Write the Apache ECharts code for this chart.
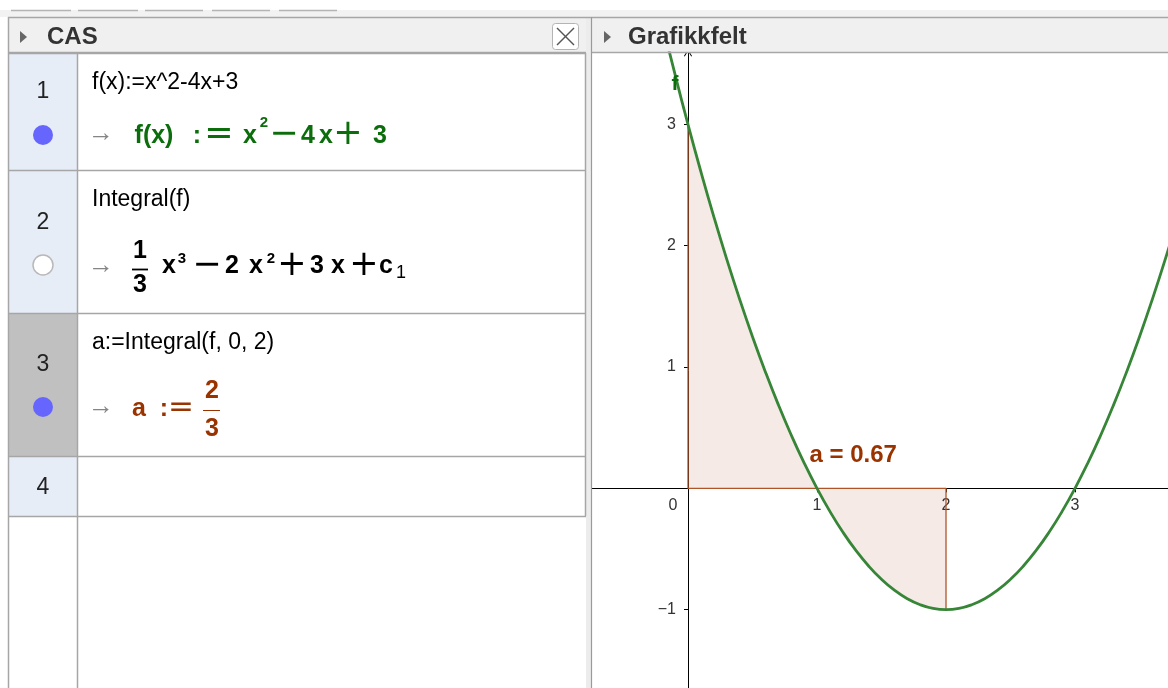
<!DOCTYPE html>
<html>
<head>
<meta charset="utf-8">
<title>CAS – Grafikkfelt</title>
<script src="https://cdn.jsdelivr.net/npm/echarts@6/dist/echarts.min.js"></script>
<style>
  html, body { margin: 0; padding: 0; background: #fff; }
  #main { width: 1168px; height: 688px; }
</style>
</head>
<body>
<div id="main"></div>
<script>
const curveX = [-0.8, -0.7, -0.6, -0.5, -0.4, -0.3, -0.2, -0.1, 0, 0.1, 0.2, 0.3, 0.4, 0.5, 0.6, 0.7, 0.8, 0.9, 1,
  1.1, 1.2, 1.3, 1.4, 1.5, 1.6, 1.7, 1.8, 1.9, 2, 2.1, 2.2, 2.3, 2.4, 2.5, 2.6, 2.7, 2.8, 2.9, 3,
  3.1, 3.2, 3.3, 3.4, 3.5, 3.6, 3.7, 3.8];
const curveY = [6.84, 6.29, 5.76, 5.25, 4.76, 4.29, 3.84, 3.41, 3, 2.61, 2.24, 1.89, 1.56, 1.25, 0.96, 0.69, 0.44, 0.21, 0,
  -0.19, -0.36, -0.51, -0.64, -0.75, -0.84, -0.91, -0.96, -0.99, -1, -0.99, -0.96, -0.91, -0.84, -0.75, -0.64, -0.51, -0.36, -0.19, 0,
  0.21, 0.44, 0.69, 0.96, 1.25, 1.56, 1.89, 2.24];
// integral region a = Integral(f, 0, 2)
const areaStart = 0;
const areaEnd = 2;
const areaEdge = [[0, 3], [0, 0], [2, 0], [2, -1]];
const areaText = 'a = 0.67';
// axis ticks / labels
const xLabelValues = [0, 1, 2, 3];
const xTickValues = [1, 2, 3];
const yLabelValues = [-1, 1, 2, 3];
// CAS rows
const casNumbers = ['1', '2', '3', '4'];
const casInputs = ['f(x):=x^2-4x+3', 'Integral(f)', 'a:=Integral(f, 0, 2)', ''];

const FONT = '"Liberation Sans", Arial, sans-serif';
const OPFONT = '"DejaVu Sans", sans-serif';
const GREEN = '#0b6d0b';
const BROWN = '#993300';
const LINE = '#a6a6a6';

const chart = echarts.init(document.getElementById('main'));

// --- little helpers for the CAS panel ---
function txt(x, y, text, o) {
  o = o || {};
  return {
    type: 'text', x: x, y: y, z: 10,
    style: {
      text: text, fill: o.color || '#000',
      fontSize: o.size || 23, fontWeight: o.bold ? 'bold' : 'normal', fontFamily: o.family || FONT,
      align: o.align || 'center', verticalAlign: 'middle'
    }
  };
}
function op(x, y, text, color) {
  return txt(x, y, text, { size: 35, color: color, family: OPFONT });
}
function line(x1, y1, x2, y2, color, w) {
  return { type: 'line', z: 5, shape: { x1: x1, y1: y1, x2: x2, y2: y2 }, style: { stroke: color || LINE, lineWidth: w || 1.5 } };
}
function rect(x, y, w, h, fill, stroke, r) {
  return { type: 'rect', z: 1, shape: { x: x, y: y, width: w, height: h, r: r || 0 }, style: { fill: fill, stroke: stroke || null } };
}

const rowTop = [53, 170, 313, 456];
const rowBottom = [170, 313, 456, 516];
const numY = [92, 223, 365, 488];
const inY = [83, 200, 343];

const g = [];
// top strip + tabs
g.push(rect(0, 10, 1168, 7, '#f2f2f2'));
[[11, 71], [78, 138], [145, 203], [212, 270], [279, 337]].forEach(function (t) {
  g.push(line(t[0], 10.5, t[1], 10.5, '#b4b4b4', 1.5));
});
// headers
g.push(rect(8, 17, 578, 35, '#f0f0f0'));
g.push(rect(591, 17, 577, 35, '#f0f0f0'));
g.push(line(8, 17.5, 1168, 17.5, LINE, 1.5));
g.push(line(8, 52.5, 586, 52.5, LINE, 1.5));
g.push(line(591, 52.5, 1168, 52.5, LINE, 1.5));
g.push({ type: 'polygon', z: 5, shape: { points: [[20, 31], [27, 37], [20, 43]] }, style: { fill: '#666' } });
g.push({ type: 'polygon', z: 5, shape: { points: [[604, 31], [611, 37], [604, 43]] }, style: { fill: '#666' } });
g.push(txt(47, 37, 'CAS', { bold: true, size: 24, color: '#333', align: 'left' }));
g.push(txt(628, 37, 'Grafikkfelt', { bold: true, size: 24, color: '#333', align: 'left' }));
// close button
g.push(rect(552.5, 23.5, 26, 26, '#fff', '#b4b4b4', 3));
g.push(line(557, 28, 574, 45, '#555', 1.5));
g.push(line(574, 28, 557, 45, '#555', 1.5));
// divider between panels
g.push(rect(586, 17, 5, 671, '#ececec'));
g.push(line(591.5, 17, 591.5, 688, '#9a9a9a', 1.2));
g.push(line(8.5, 17, 8.5, 688, LINE, 1.5));

// CAS rows
for (let i = 0; i < 4; i++) {
  g.push(rect(9, rowTop[i], 68, rowBottom[i] - rowTop[i], i === 2 ? '#c0c0c0' : '#e6edf7'));
  g.push(line(8, rowBottom[i] + 0.5, 586, rowBottom[i] + 0.5));
  g.push(txt(43, numY[i], casNumbers[i], { size: 23, color: '#222' }));
  if (casInputs[i]) g.push(txt(92, inY[i], casInputs[i], { size: 23, align: 'left' }));
}
g.push(line(8, 53.5, 586, 53.5));
g.push(line(77.5, 53, 77.5, 688));
g.push(line(585.5, 53, 585.5, 516));

// visibility dots
g.push({ type: 'circle', z: 5, shape: { cx: 43, cy: 135, r: 10 }, style: { fill: '#6666ff' } });
g.push({ type: 'circle', z: 5, shape: { cx: 43, cy: 265, r: 10 }, style: { fill: '#fff', stroke: '#b8b8b8', lineWidth: 1.5 } });
g.push({ type: 'circle', z: 5, shape: { cx: 43, cy: 407, r: 10 }, style: { fill: '#6666ff' } });

// arrows
[134, 266, 407].forEach(function (y) { g.push(txt(101, y, '→', { size: 26, color: '#858585' })); });

// row 1 output: f(x) := x^2 - 4 x + 3
const B1 = { bold: true, size: 25, color: GREEN };
g.push(txt(154, 136, 'f(x)', B1));
g.push(txt(197, 136, ':', B1));
g.push(op(219, 135, '=', GREEN));
g.push(txt(250, 136, 'x', B1));
g.push(txt(264, 123, '2', { bold: true, size: 15, color: GREEN }));
g.push(op(284, 135, '−', GREEN));
g.push(txt(308, 136, '4', B1));
g.push(txt(326, 136, 'x', B1));
g.push(op(348, 135, '+', GREEN));
g.push(txt(380, 136, '3', B1));

// row 2 output: 1/3 x^3 - 2 x^2 + 3 x + c1
const B2 = { bold: true, size: 25, color: '#000' };
g.push(txt(140, 251, '1', B2));
g.push(line(132, 269.5, 148, 269.5, '#000', 1.8));
g.push(txt(140, 285, '3', B2));
g.push(txt(169, 266, 'x', B2));
g.push(txt(182, 259, '3', { bold: true, size: 15 }));
g.push(op(207, 266, '−', '#000'));
g.push(txt(232, 266, '2', B2));
g.push(txt(256, 266, 'x', B2));
g.push(txt(271, 259, '2', { bold: true, size: 15 }));
g.push(op(292, 266, '+', '#000'));
g.push(txt(317, 266, '3', B2));
g.push(txt(338, 266, 'x', B2));
g.push(op(364, 266, '+', '#000'));
g.push(txt(386, 266, 'c', B2));
g.push(txt(401, 273, '1', { size: 18 }));

// row 3 output: a := 2/3
const B3 = { bold: true, size: 25, color: BROWN };
g.push(txt(139, 409, 'a', B3));
g.push(txt(164, 409, ':', B3));
g.push(txt(181, 408, '=', { size: 31, color: BROWN, family: OPFONT }));
g.push(txt(212, 391, '2', B3));
g.push(line(203, 410.5, 220, 410.5, BROWN, 1));
g.push(txt(212, 429, '3', B3));

// --- graph ---
const curve = curveX.map(function (x, i) { return [x, curveY[i]]; });
const areaData = curve.filter(function (p) { return p[0] >= areaStart && p[0] <= areaEnd; });

const axisText = { color: '#333', fontSize: 16, fontFamily: FONT };

const option = {
  backgroundColor: '#fff',
  animation: false,
  grid: { left: 592, top: 53, width: 576, height: 635, containLabel: false, outerBoundsMode: 'none' },
  xAxis: {
    type: 'value', min: -0.7442, max: 3.7209, position: 'bottom', offset: -199.7,
    axisLine: { onZero: false, lineStyle: { color: '#000', width: 1 } },
    axisTick: { show: true, length: 4, customValues: xTickValues, lineStyle: { color: '#000' } },
    axisLabel: Object.assign({
      customValues: xLabelValues, margin: 9,
      formatter: function (v) { return v === 0 ? '{z|0}' : String(v); },
      rich: { z: Object.assign({ padding: [0, 30, 0, 0] }, axisText) }
    }, axisText),
    splitLine: { show: false }
  },
  yAxis: {
    type: 'value', min: -1.646, max: 3.589, position: 'left', offset: -96,
    axisLine: {
      onZero: false, lineStyle: { color: '#000', width: 1 },
      symbol: ['none', 'path://M0,8 L5,0 L10,8 L9,8.6 L5,2 L1,8.6 Z'], symbolSize: [10, 7]
    },
    axisTick: { show: true, length: 4, customValues: yLabelValues, lineStyle: { color: '#000' } },
    axisLabel: Object.assign({
      customValues: yLabelValues, margin: 12,
      formatter: function (v) { return v < 0 ? '−' + Math.abs(v) : String(v); }
    }, axisText),
    splitLine: { show: false }
  },
  graphic: g,
  series: [
    {
      name: 'area', type: 'line', data: areaData, smooth: true, showSymbol: false, z: 2,
      lineStyle: { width: 0 },
      areaStyle: { color: 'rgba(153,51,0,0.1)', opacity: 1, origin: 0 }
    },
    {
      name: 'edge', type: 'line', data: areaEdge, showSymbol: false, z: 3,
      lineStyle: { color: '#b05428', width: 1.3 }
    },
    {
      name: 'f', type: 'line', data: curve, smooth: true, showSymbol: false, z: 4,
      lineStyle: { color: '#378637', width: 2.8 }
    },
    {
      name: 'labels', type: 'scatter', symbolSize: 1, z: 5,
      itemStyle: { color: 'transparent', opacity: 1 },
      data: [
        { value: [-0.124, 3.33], label: { formatter: 'f', color: GREEN, fontSize: 21 } },
        { value: [0.946, 0.266], label: { formatter: areaText, color: BROWN, fontSize: 24 } }
      ],
      label: {
        show: true, position: [0, 0], align: 'left', verticalAlign: 'middle',
        fontWeight: 'bold', fontFamily: FONT, opacity: 1
      }
    }
  ]
};
chart.setOption(option);
</script>
</body>
</html>
